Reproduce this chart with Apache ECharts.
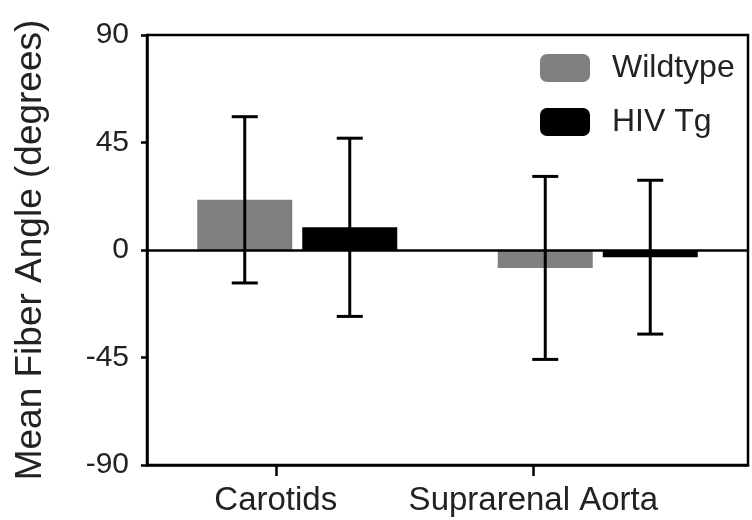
<!DOCTYPE html>
<html>
<head>
<meta charset="utf-8">
<script src="https://cdn.jsdelivr.net/npm/echarts@6/dist/echarts.min.js"></script>
<style>
html,body{margin:0;padding:0;background:#fff;}
#chart{width:752px;height:520px;}
</style>
</head>
<body>
<div id="chart"></div>
<script>
// ---- data ----
const categories = ['Carotids', 'Suprarenal Aorta'];
const tickLabels = ['', 'Carotids', '', '', 'Suprarenal Aorta', '', ''];
const seriesNames = ['Wildtype', 'HIV Tg'];
const wildtypeMean = [21, -7.5];
const wildtypeSD = [34.8, 38.3];
const hivMean = [9.5, -3];
const hivSD = [37.3, 32.2];
const yMin = -90, yMax = 90, yStep = 45;

// ---- layout ----
const BAR_W = 95, BAR_GAP = 10;
const LW = 2.5;
const TXT = '#222';
const FONT = 'Liberation Sans, Arial, sans-serif';

function errSeries(name, means, sds, sign) {
  return {
    type: 'custom',
    name: name + ' err',
    xAxisIndex: 0, yAxisIndex: 0,
    z: 5,
    silent: true,
    data: means.map((m, i) => [i, m, sds[i]]),
    renderItem: function (params, api) {
      const xi = api.value(0), m = api.value(1), sd = api.value(2);
      const top = api.coord([xi, m + sd]);
      const bot = api.coord([xi, m - sd]);
      const x = top[0] + sign * (BAR_W + BAR_GAP) / 2;
      const st = { stroke: '#000', lineWidth: 3 };
      const cap = 13;
      return {
        type: 'group',
        children: [
          { type: 'line', shape: { x1: x, y1: top[1], x2: x, y2: bot[1] }, style: st },
          { type: 'line', shape: { x1: x - cap, y1: top[1], x2: x + cap, y2: top[1] }, style: st },
          { type: 'line', shape: { x1: x - cap, y1: bot[1], x2: x + cap, y2: bot[1] }, style: st }
        ]
      };
    }
  };
}

const chart = echarts.init(document.getElementById('chart'));
chart.setOption({
  animation: false,
  backgroundColor: '#fff',
  textStyle: { fontFamily: FONT },
  grid: { left: 147, right: 4, top: 35, bottom: 55, show: true, borderColor: '#000', borderWidth: LW, backgroundColor: 'transparent' },
  legend: {
    orient: 'vertical', left: 540, top: 52, padding: 0,
    data: seriesNames,
    itemWidth: 50, itemHeight: 28, itemGap: 22,
    icon: 'roundRect',
    textStyle: { fontSize: 32, color: TXT, fontFamily: FONT, padding: [0, 0, 0, 17] }
  },
  xAxis: [
    { type: 'category', data: categories, show: false, gridIndex: 0 },
    {
      type: 'category', data: tickLabels, position: 'bottom', gridIndex: 0,
      axisLine: { show: true, onZero: false, lineStyle: { color: '#000', width: LW } },
      axisTick: { show: true, length: 11, alignWithLabel: true, interval: (i, v) => v !== '', lineStyle: { color: '#000', width: LW } },
      axisLabel: { interval: 0, fontSize: 33, color: TXT, margin: 19, fontFamily: FONT },
      splitLine: { show: false }
    }
  ],
  yAxis: {
    type: 'value', min: yMin, max: yMax, interval: yStep,
    name: 'Mean Fiber Angle (degrees)', nameLocation: 'middle', nameGap: 98,
    nameTextStyle: { fontSize: 37, color: TXT, fontFamily: FONT },
    axisLine: { show: true, lineStyle: { color: '#000', width: LW } },
    axisTick: { show: true, length: 6, lineStyle: { color: '#000', width: LW } },
    axisLabel: { fontSize: 30, color: TXT, margin: 18, fontFamily: FONT },
    splitLine: { show: false }
  },
  series: [
    {
      name: seriesNames[0], type: 'bar', xAxisIndex: 0, yAxisIndex: 0,
      data: wildtypeMean, barWidth: BAR_W, barGap: (BAR_GAP / BAR_W * 100) + '%',
      itemStyle: { color: '#808080' },
      markLine: {
        silent: true, symbol: 'none', label: { show: false },
        lineStyle: { color: '#000', width: LW, type: 'solid' },
        data: [{ yAxis: 0 }]
      }
    },
    {
      name: seriesNames[1], type: 'bar', xAxisIndex: 0, yAxisIndex: 0,
      data: hivMean, barWidth: BAR_W,
      itemStyle: { color: '#000' }
    },
    errSeries(seriesNames[0], wildtypeMean, wildtypeSD, -1),
    errSeries(seriesNames[1], hivMean, hivSD, 1)
  ]
});
</script>
</body>
</html>
